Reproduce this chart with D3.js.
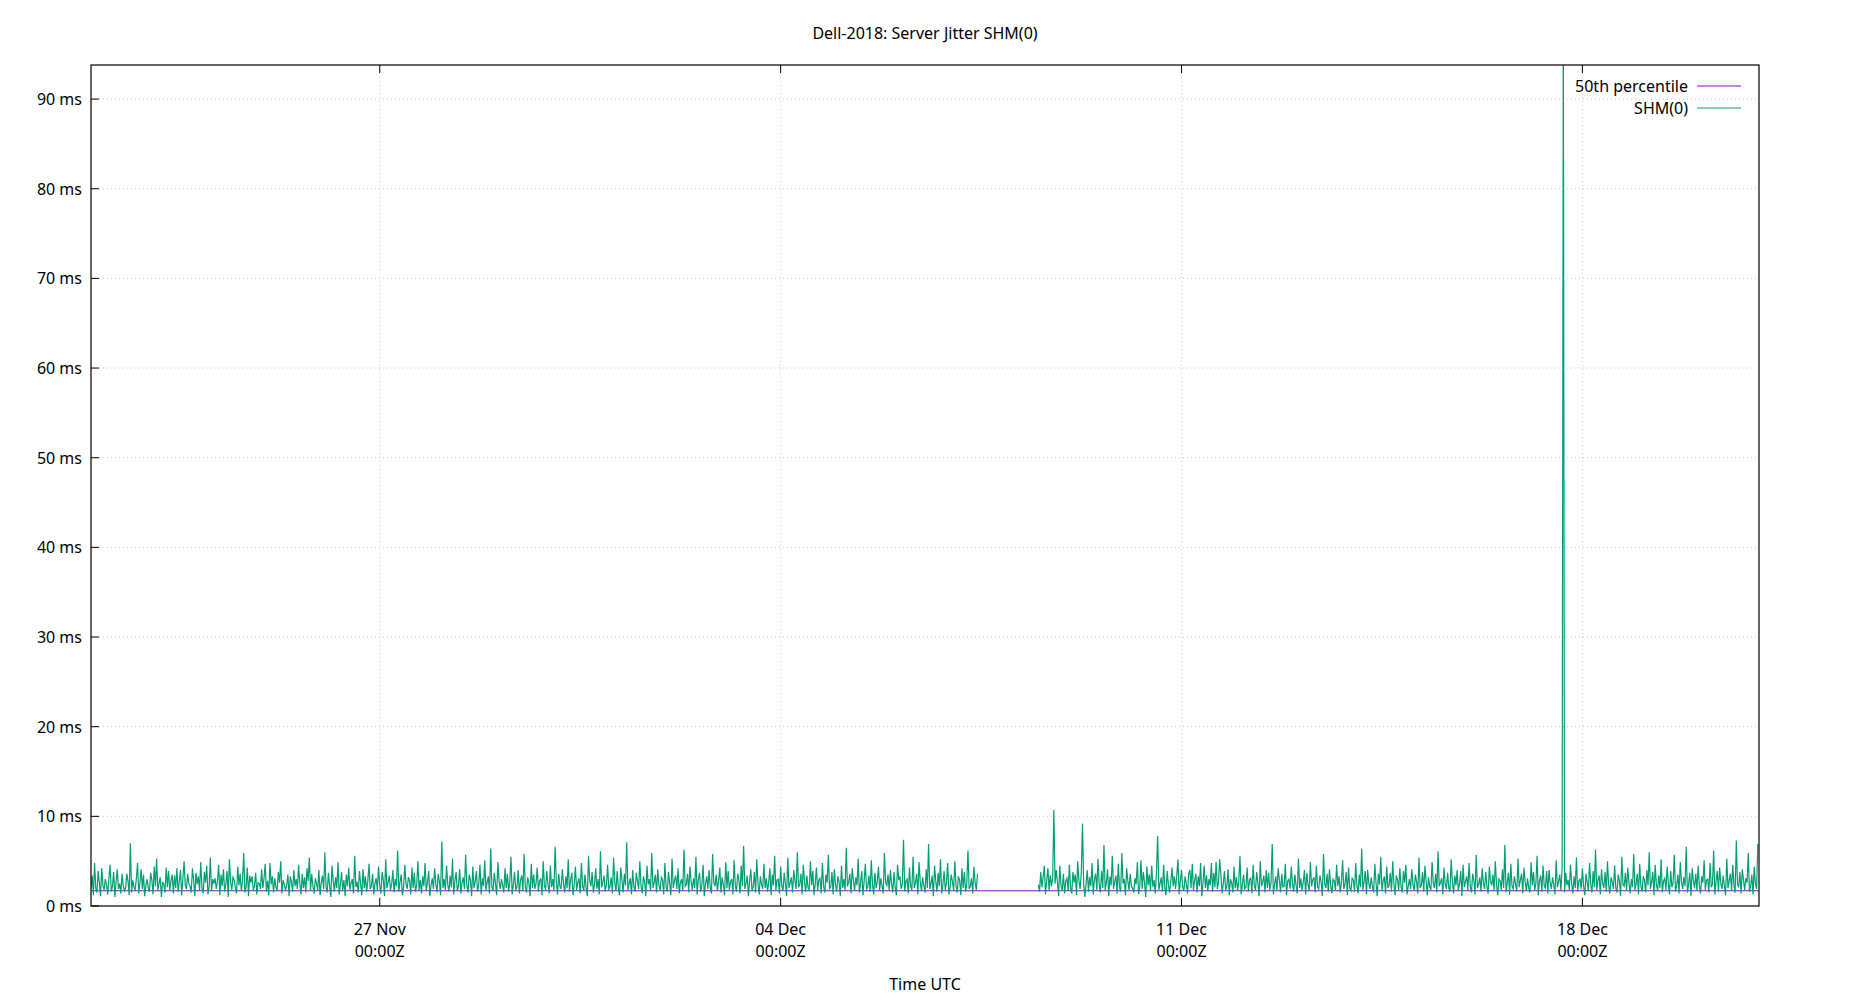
<!DOCTYPE html><html><head><meta charset="utf-8">
<script src="https://cdn.jsdelivr.net/npm/d3@7"></script>
<style>body{margin:0;background:#fff}text{font-family:"Noto Sans",sans-serif;font-size:16px;fill:#000}</style>
</head><body><svg id="c" width="1850" height="1000"></svg><script>
const title="Dell-2018: Server Jitter SHM(0)";
const xLabel="Time UTC";
const yTicks=[0,10,20,30,40,50,60,70,80,90];
const xTicks=["2018-11-27T00:00Z","2018-12-04T00:00Z","2018-12-11T00:00Z","2018-12-18T00:00Z"];
const xDomain=["2018-11-21T23:00Z","2018-12-21T02:00Z"];
const yMax=93.8;
const median=1.7;
const seg1Start="2018-11-21T23:00Z", seg2Start="2018-12-08T12:00Z", stepMinutes=30;
const seg1=[
2.1,3.4,1.2,4.8,2.0,1.5,3.9,2.6,1.1,4.2,2.3,1.8,3.0,2.4,1.3,3.1,4.6,1.6,2.2,3.8,1.0,2.7,4.1,1.9,
2.5,1.4,3.6,2.3,1.7,2.0,3.6,2.8,1.2,7.0,1.5,2.9,2.1,1.8,3.0,4.8,1.4,2.6,4.1,1.9,3.5,1.1,2.3,3.0,
2.0,1.6,3.7,2.9,1.3,4.4,2.2,5.3,1.8,2.5,3.2,1.0,2.7,2.4,1.5,4.3,2.1,3.9,1.7,2.8,3.5,1.4,3.4,2.0,
4.2,1.6,2.7,4.0,1.2,3.1,5.0,2.3,1.9,3.6,2.5,2.2,1.5,4.2,2.9,1.1,3.7,2.4,3.3,1.8,4.9,2.0,1.4,3.8,
2.6,4.5,1.3,2.1,5.4,1.7,3.0,2.5,3.1,1.9,2.8,4.6,1.2,3.5,2.2,4.1,1.6,2.4,3.9,1.0,5.2,2.7,1.8,3.2,
2.9,2.0,1.4,4.4,2.3,3.6,1.7,2.9,5.9,1.5,2.1,4.3,1.1,3.4,2.6,3.3,1.8,2.2,3.7,1.3,2.6,2.5,1.9,4.1,
2.0,3.1,4.7,1.6,2.8,1.2,4.8,2.4,3.3,1.5,3.1,2.1,1.7,3.8,2.6,5.0,1.4,2.9,2.4,1.8,2.3,3.5,1.1,3.3,
2.7,1.6,4.0,2.2,3.0,1.9,4.6,2.5,1.3,3.6,2.0,3.2,1.5,4.2,2.8,5.4,1.7,3.6,2.2,1.4,3.1,2.5,1.8,4.0,
1.2,2.6,3.4,1.9,6.0,2.1,1.5,3.7,2.3,1.0,4.5,2.8,1.6,3.2,2.0,4.9,1.3,2.4,3.8,1.7,2.9,1.1,3.5,2.2,
4.3,1.8,2.6,3.0,1.4,5.6,2.1,2.7,1.5,3.9,2.4,1.2,4.1,2.0,3.3,1.6,2.8,4.7,1.9,2.2,3.6,1.3,2.5,3.1,
1.7,4.4,2.3,1.4,3.8,2.9,1.1,5.2,2.0,2.6,3.4,1.8,2.4,4.0,1.5,3.0,2.2,6.2,1.6,2.7,3.5,1.2,2.1,4.6,
2.5,1.9,3.2,2.8,1.3,4.3,2.0,3.7,1.6,2.4,5.0,1.8,2.9,1.4,3.3,2.2,4.8,1.7,2.6,3.9,1.1,2.3,3.1,1.9,
4.2,2.5,1.5,3.6,2.7,1.2,7.2,2.0,3.0,1.8,4.5,2.4,1.6,3.4,2.1,5.3,1.3,2.8,3.8,1.7,2.2,4.1,1.4,2.6,
3.2,1.9,5.7,2.3,1.5,3.5,2.9,1.1,4.4,2.0,2.7,3.9,1.6,2.4,4.6,1.3,3.1,2.2,5.1,1.8,2.6,3.3,1.4,6.4,
2.1,1.7,3.7,2.5,1.2,4.9,2.8,1.9,3.0,2.3,1.5,4.2,2.0,3.6,1.6,2.7,5.5,1.3,2.4,3.8,1.8,2.1,4.0,1.4,
2.9,3.4,1.7,5.8,2.2,1.5,3.2,2.6,1.1,4.7,2.0,3.5,1.9,2.5,4.3,1.6,2.8,3.1,1.2,5.0,2.3,1.8,3.9,2.4,
1.4,4.5,2.1,3.0,1.7,6.6,2.7,1.3,3.6,2.2,1.9,4.1,2.5,1.5,3.3,2.0,5.2,1.6,2.9,3.7,1.2,2.4,4.4,1.8,
2.6,3.1,1.4,4.8,2.3,1.7,3.5,2.0,1.1,5.6,2.8,2.2,3.8,1.5,2.5,4.2,1.9,3.0,1.3,6.1,2.1,2.7,3.4,1.6,
2.4,4.6,1.8,2.2,3.2,1.4,5.4,2.6,1.7,3.9,2.0,1.2,4.3,2.9,1.5,3.6,2.3,7.1,1.8,2.5,3.1,1.3,4.0,2.1,
1.6,3.7,2.8,1.9,5.0,2.2,1.4,3.3,2.7,1.1,4.5,2.4,3.0,1.7,5.9,2.0,2.6,3.5,1.5,4.1,2.3,1.8,3.2,2.9,
1.3,4.8,2.1,1.6,3.8,2.5,1.2,5.3,2.0,2.8,3.4,1.9,4.2,1.4,2.6,3.0,1.7,6.3,2.2,2.4,3.6,1.5,4.4,2.7,
1.8,3.1,2.0,5.5,1.3,2.9,3.7,1.6,2.3,4.6,1.1,2.5,3.3,1.9,4.0,2.1,1.4,5.8,2.6,2.2,3.5,1.7,2.8,4.3,
1.5,3.2,2.4,1.2,4.9,2.0,3.9,1.8,2.7,3.0,1.3,5.1,2.3,1.6,3.6,2.9,1.4,4.5,2.2,6.7,1.9,2.5,3.4,1.1,
2.8,4.1,1.7,2.1,3.8,1.5,5.2,2.6,1.3,3.3,2.4,1.9,4.7,2.0,3.1,1.6,2.7,4.2,1.2,3.5,2.3,5.6,1.8,2.9,
3.0,1.4,4.4,2.2,1.7,3.7,2.5,1.1,5.4,2.0,2.6,3.2,1.5,4.0,2.8,1.9,6.0,2.1,2.4,3.6,1.3,4.6,2.7,1.6,
3.4,2.0,1.8,5.0,2.3,3.9,1.2,2.5,4.3,1.7,2.9,3.1,1.4,4.8,2.2,1.5,3.5,2.6,5.7,1.9,2.1,3.8,1.3,4.1,
2.4,1.6,3.3,2.7,1.1,4.5,2.0,3.0,1.8,6.5,2.2,2.6,3.6,1.4,4.2,2.9,1.7,3.2,2.3,5.3,1.5,2.5,3.9,1.2,
2.8,4.7,1.9,2.1,3.4,1.6,5.1,2.4,1.3,3.7,2.0,2.7,4.4,1.8,3.1,2.2,1.4,5.9,2.6,2.3,3.5,1.7,4.0,2.5,
1.5,3.8,2.1,1.2,4.6,2.9,3.3,1.9,2.4,7.4,1.6,2.8,3.0,1.4,4.3,2.2,1.8,5.5,2.0,2.6,3.6,1.3,4.9,2.7,
1.7,3.2,2.3,1.5,4.1,2.0,6.9,1.9,2.5,3.4,1.1,4.5,2.8,1.6,3.7,2.2,5.2,1.4,2.4,3.9,1.8,2.6,4.8,1.3,
2.1,3.5,2.7,1.7,5.0,2.3,1.5,3.3,2.9,1.2,4.2,2.0,3.8,1.6,2.5,6.2,1.9,2.2,3.1,1.4,4.4,2.6,1.8,3.6];
const seg2=[
2.4,1.6,3.8,2.1,3.2,4.5,1.3,2.9,4.2,1.8,3.4,2.2,3.1,10.7,2.5,4.0,2.7,1.1,4.5,2.3,1.7,3.6,1.4,2.8,
3.1,1.7,4.6,2.0,1.4,3.8,2.6,3.5,1.2,5.0,2.8,1.9,3.7,9.2,2.4,1.0,2.5,4.0,1.6,3.2,2.2,4.8,1.3,2.9,
3.6,1.8,5.3,2.4,1.5,3.9,2.0,6.8,1.7,2.6,4.1,1.1,3.3,2.3,5.6,1.9,2.7,3.4,1.4,4.7,2.1,1.6,5.9,2.5,
3.0,1.2,4.2,2.8,1.8,3.6,2.2,2.0,1.5,3.1,2.4,4.9,1.3,2.2,5.1,1.9,3.8,2.6,1.0,4.4,2.3,3.5,1.7,4.5,
2.1,2.9,1.4,3.7,7.8,1.8,2.5,3.2,1.6,4.6,2.0,1.2,3.9,2.4,1.5,2.7,4.3,2.2,3.3,1.9,3.4,5.2,1.3,2.8,
4.0,2.1,1.7,3.3,2.5,1.4,3.6,4.0,2.0,4.7,1.8,2.9,3.6,1.5,3.3,2.2,4.8,1.1,2.6,4.5,2.0,3.4,1.7,3.0,
2.3,4.8,1.6,3.7,2.1,4.9,1.9,2.7,5.2,3.5,1.4,2.5,3.9,1.8,2.2,4.1,1.2,3.0,2.6,1.5,4.4,2.0,3.2,1.7,
2.8,5.6,1.3,2.4,3.5,1.9,2.1,4.3,1.6,2.9,3.1,1.4,4.6,2.3,1.8,3.8,2.5,1.1,5.0,2.2,2.7,3.4,1.5,4.0,
2.0,3.7,1.8,2.6,6.9,1.3,2.4,3.3,1.7,4.2,2.9,1.5,3.6,2.1,2.2,4.7,1.2,2.8,3.0,1.9,4.4,2.5,1.6,3.5,
2.3,1.4,5.3,2.0,3.1,1.8,2.6,4.0,1.3,3.7,2.4,1.7,4.9,2.2,2.9,3.2,1.5,4.5,2.1,1.9,3.4,2.7,1.1,5.8,
2.5,2.0,3.6,1.6,4.1,2.3,1.4,3.0,2.8,1.8,4.6,2.2,3.3,1.5,2.6,5.1,1.9,2.4,3.8,1.2,4.3,2.0,1.7,3.1,
2.9,1.6,4.8,2.3,1.4,3.5,2.1,6.4,1.8,2.7,3.9,1.3,4.0,2.5,1.9,3.2,2.2,1.5,4.7,2.6,1.1,3.6,2.4,5.5,
1.7,2.8,3.3,1.4,4.4,2.0,2.3,3.7,1.6,5.0,2.5,1.2,3.4,2.9,1.8,4.2,2.1,1.5,3.9,2.6,4.6,1.3,2.2,3.0,
1.9,4.1,2.4,1.7,3.5,2.7,1.4,5.4,2.0,2.3,3.8,1.6,4.5,2.8,1.2,3.2,2.1,1.8,4.9,2.5,2.0,3.6,1.5,6.1,
2.2,2.6,3.1,1.3,4.3,2.4,1.9,3.7,2.0,1.6,5.2,2.8,1.4,3.4,2.3,4.0,1.7,2.5,3.9,1.1,4.6,2.1,2.7,3.3,
1.8,4.8,2.2,1.5,3.6,2.9,1.3,5.7,2.0,2.4,3.2,1.6,4.2,2.6,1.9,3.8,2.1,1.4,4.4,2.7,2.3,3.5,1.7,5.0,
2.5,1.2,3.0,2.8,1.8,4.1,2.0,6.8,1.5,2.6,3.7,1.3,4.7,2.2,1.9,3.3,2.4,1.6,5.3,2.1,2.9,3.6,1.4,4.3,
2.7,1.7,3.1,2.0,1.5,4.9,2.3,3.8,1.8,2.5,5.6,1.2,2.8,3.4,1.6,4.5,2.2,2.0,3.9,1.4,4.0,2.6,1.9,3.2,
2.4,1.3,5.1,2.1,2.7,3.5,1.7,4.4,100,1.5,3.7,2.3,2.9,1.8,4.6,2.5,1.4,3.3,2.0,5.4,1.6,2.8,3.0,1.9,
4.2,2.2,1.2,3.6,2.6,1.7,4.8,2.4,1.5,3.9,2.1,6.3,1.8,2.9,3.4,1.3,4.1,2.5,2.0,3.8,1.6,5.0,2.3,1.4,
3.2,2.7,1.9,4.5,2.0,1.5,3.5,2.8,1.1,5.5,2.4,2.2,3.7,1.7,4.3,2.6,1.4,3.0,2.1,5.8,1.8,2.5,3.6,1.3,
4.7,2.2,1.6,3.3,2.9,1.5,4.0,2.3,6.0,1.9,2.7,3.8,1.2,4.6,2.4,1.7,3.4,2.0,5.2,1.5,2.8,3.1,1.8,4.4,
2.5,1.3,3.9,2.1,2.6,5.7,1.6,2.3,3.5,1.4,4.9,2.7,1.9,3.2,2.2,6.6,1.5,2.4,3.7,1.1,4.2,2.8,2.0,3.6,
1.7,4.5,2.3,1.4,3.3,2.6,5.1,1.8,2.9,3.0,1.5,4.8,2.1,2.4,6.2,1.3,2.7,3.9,1.6,4.3,2.5,1.9,3.4,2.2,
1.2,5.3,2.0,2.8,3.6,1.7,4.6,2.3,1.5,7.3,2.4,2.1,3.8,1.4,4.1,2.9,1.8,3.1,2.6,5.9,1.6,2.2,3.5,1.3,
4.4,2.5,1.9,6.9];

const L=91,R=1759,T=65,B=906;
const svg=d3.select("#c");
const x=d3.scaleUtc().domain(xDomain.map(d=>new Date(d))).range([L,R]);
const y=d3.scaleLinear().domain([0,yMax]).range([B,T]);
const toPts=(start,arr)=>arr.map((v,i)=>({t:new Date(+new Date(start)+i*stepMinutes*60e3),v}));
const p1=toPts(seg1Start,seg1),p2=toPts(seg2Start,seg2);
svg.append("defs").append("clipPath").attr("id","cp").append("rect").attr("x",L).attr("y",T).attr("width",R-L).attr("height",B-T);
const g=svg.append("g").attr("stroke","#c8c8c8").attr("stroke-dasharray","1,3");
yTicks.slice(1).forEach(v=>g.append("line").attr("x1",L).attr("x2",R).attr("y1",y(v)).attr("y2",y(v)));
xTicks.forEach(d=>g.append("line").attr("x1",x(new Date(d))).attr("x2",x(new Date(d))).attr("y1",T).attr("y2",B));
const line=d3.line().x(d=>x(d.t)).y(d=>y(d.v));
const pl=svg.append("g").attr("clip-path","url(#cp)");
pl.append("line").attr("x1",L).attr("x2",R).attr("y1",y(median)).attr("y2",y(median)).attr("stroke","#9400d3").attr("stroke-width",1.2);
[p1,p2].forEach(p=>pl.append("path").attr("d",line(p)).attr("fill","none").attr("stroke","#009e73").attr("stroke-width",1.2));
const ax=svg.append("g").attr("stroke","#000");
ax.append("rect").attr("x",L).attr("y",T).attr("width",R-L).attr("height",B-T).attr("fill","none").attr("stroke-width",1.2);
yTicks.forEach(v=>{ax.append("line").attr("x1",L).attr("x2",L+8).attr("y1",y(v)).attr("y2",y(v));
 svg.append("text").attr("x",82).attr("y",y(v)+6).attr("text-anchor","end").text(v+" ms");});
const fmtD=d3.utcFormat("%d %b");
xTicks.forEach(s=>{const d=new Date(s),xx=x(d);
 ax.append("line").attr("x1",xx).attr("x2",xx).attr("y1",B).attr("y2",B-8);
 ax.append("line").attr("x1",xx).attr("x2",xx).attr("y1",T).attr("y2",T+8);
 svg.append("text").attr("x",xx).attr("y",935).attr("text-anchor","middle").text(fmtD(d));
 svg.append("text").attr("x",xx).attr("y",957).attr("text-anchor","middle").text("00:00Z");});
svg.append("text").attr("x",925).attr("y",39).attr("text-anchor","middle").text(title);
svg.append("text").attr("x",925).attr("y",990).attr("text-anchor","middle").text(xLabel);
[["50th percentile","#9400d3",86],["SHM(0)","#009e73",108]].forEach(([t,c,yy])=>{
 svg.append("text").attr("x",1688).attr("y",yy+6).attr("text-anchor","end").text(t);
 svg.append("line").attr("x1",1697).attr("x2",1741).attr("y1",yy).attr("y2",yy).attr("stroke",c).attr("stroke-width",1.2);});
</script></body></html>
